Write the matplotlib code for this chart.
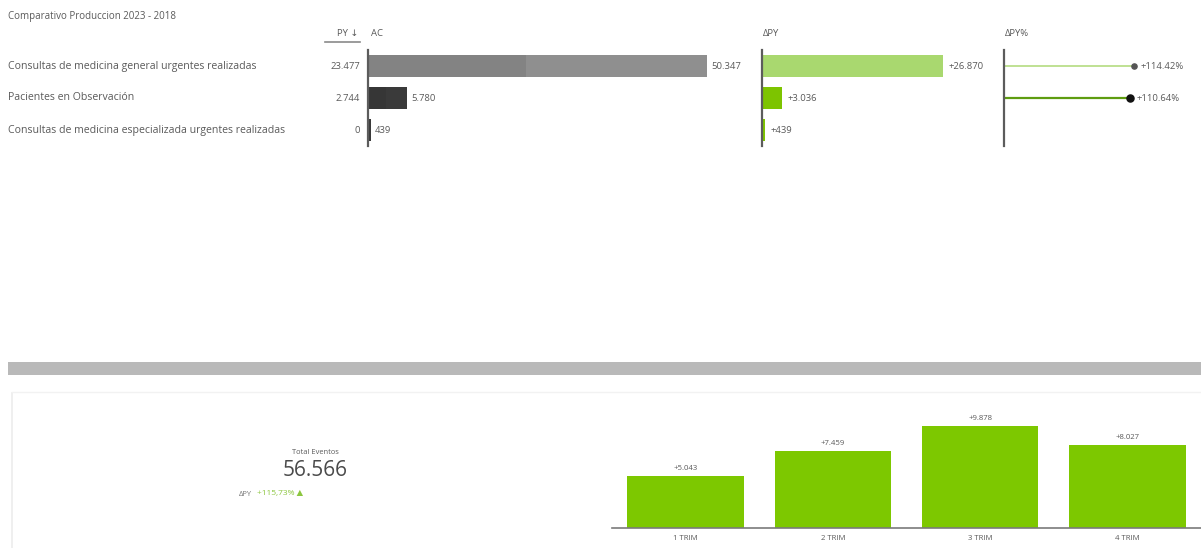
import matplotlib
matplotlib.use("Agg")
import matplotlib.pyplot as plt
from matplotlib.patches import Rectangle
from matplotlib.lines import Line2D

plt.rcParams['font.family'] = ['Open Sans', 'DejaVu Sans']

W, H = 1201, 548

# ---- data ----
title = "Comparativo Produccion 2023 - 2018"
categories = [
    "Consultas de medicina general urgentes realizadas",
    "Pacientes en Observación",
    "Consultas de medicina especializada urgentes realizadas",
]
py_values = [23477, 2744, 0]
ac_values = [50347, 5780, 439]
dpy_values = [26870, 3036, 439]
dpy_pct = [114.42, 110.64, None]

kpi_title = "Total Eventos"
kpi_value = "56.566"
kpi_delta = "+115,73%"

quarters = ["1 TRIM", "2 TRIM", "3 TRIM", "4 TRIM"]
quarter_delta = [5043, 7459, 9878, 8027]


def fmt(v, sign=False):
    s = f"{abs(v):,}".replace(",", ".")
    if sign:
        s = ("+" if v >= 0 else "-") + s
    return s


def fx(px):
    return px / W


def fy(py):
    return 1 - py / H


fig = plt.figure(figsize=(W / 100, H / 100), dpi=100)
fig.patch.set_facecolor("white")

TXT = "#5a5a5a"
FS = 6.8
FS_LABEL = 7.6

# title
fig.text(fx(8), fy(17), title, fontsize=7.0, color=TXT, va="center", ha="left")

# table rows geometry
row_top, row_h = 50, 32
n = len(categories)
scale = 339 / 50347  # pixels per unit (shared by AC and ΔPY)


def make_axes(left_px, width_px):
    ax = fig.add_axes([fx(left_px), fy(row_top + row_h * n), fx(width_px), (row_h * n) / H])
    ax.set_ylim(n - 0.5, -0.5)
    for s in ["top", "right", "bottom"]:
        ax.spines[s].set_visible(False)
    ax.spines["left"].set_color("#5c5c5c")
    ax.spines["left"].set_linewidth(1.6)
    ax.set_xticks([])
    ax.set_yticks([])
    ax.patch.set_alpha(0)
    return ax


# AC column
ax_ac = make_axes(368, 420)
ax_ac.set_xlim(0, 420 / scale)
ac_colors = ["#8f8f8f", "#3a3a3a", "#3a3a3a"]
py_colors = ["#838383", "#363636", "#363636"]
ypos = list(range(n))
ax_ac.barh(ypos, ac_values, height=0.68, color=ac_colors, left=0)
ax_ac.barh(ypos, py_values, height=0.68, color=py_colors, left=0)
for i in ypos:
    ax_ac.annotate(fmt(ac_values[i]), xy=(ac_values[i], i), xytext=(3, 0),
                   textcoords="offset points", fontsize=FS, color=TXT,
                   va="center", ha="left")
    ax_ac.annotate(fmt(py_values[i]), xy=(0, i), xytext=(-6, 0),
                   textcoords="offset points", fontsize=FS, color=TXT,
                   va="center", ha="right")

# headers
fig.text(fx(358), fy(34), "PY ↓", fontsize=FS, color=TXT, ha="right", va="center")
fig.add_artist(Line2D([fx(325), fx(360)], [fy(42), fy(42)], color="#8a8a8a", lw=1.2))
fig.text(fx(371), fy(34), "AC", fontsize=FS, color=TXT, ha="left", va="center")
fig.text(fx(763), fy(34), "ΔPY", fontsize=FS, color=TXT, ha="left", va="center")
fig.text(fx(1005), fy(34), "ΔPY%", fontsize=FS, color=TXT, ha="left", va="center")

# row labels
for i, c in enumerate(categories):
    fig.text(fx(8), fy(row_top + row_h * i + row_h / 2), c, fontsize=FS_LABEL,
             color=TXT, ha="left", va="center")

# ΔPY column
ax_d = make_axes(762, 230)
ax_d.set_xlim(0, 230 / scale)
d_colors = ["#a9d86f", "#7dc400", "#7dc400"]
ax_d.barh(ypos, dpy_values, height=0.68, color=d_colors)
for i in ypos:
    ax_d.annotate(fmt(dpy_values[i], sign=True), xy=(dpy_values[i], i), xytext=(4, 0),
                  textcoords="offset points", fontsize=FS, color=TXT,
                  va="center", ha="left")

# ΔPY% column
pscale = 130 / 114.42
ax_p = make_axes(1004, 197)
ax_p.set_xlim(0, 197 / pscale)
line_colors = ["#b4dc80", "#5e9c10"]
dot_colors = ["#555555", "#111111"]
dot_sizes = [14, 26]
line_w = [1.2, 1.6]
for i, v in enumerate(dpy_pct):
    if v is None:
        continue
    ax_p.plot([0, v], [i, i], color=line_colors[i], lw=line_w[i], solid_capstyle="butt")
    ax_p.scatter([v], [i], s=dot_sizes[i], color=dot_colors[i], zorder=3)
    ax_p.annotate(f"+{v:.2f}%", xy=(v, i), xytext=(5, 0),
                  textcoords="offset points", fontsize=FS, color=TXT,
                  va="center", ha="left")

# separator band
fig.add_artist(Rectangle((fx(8), fy(375)), fx(1201 - 8), 13 / H,
                         transform=fig.transFigure, color="#b9b9b9", lw=0))

# bottom panel frame
fig.add_artist(Line2D([fx(12), fx(12)], [fy(393), fy(548)], color="#ececec", lw=1.2))
fig.add_artist(Line2D([fx(12), fx(1201)], [fy(392), fy(392)], color="#f2f2f2", lw=1.0))

# KPI card
fig.text(fx(315), fy(452), kpi_title, fontsize=5.4, color=TXT, ha="center", va="center")
fig.text(fx(315), fy(470), kpi_value, fontsize=15, color="#4a4a4a", ha="center", va="center")
fig.text(fx(252), fy(494), "ΔPY", fontsize=5.4, color="#777777", ha="right", va="center")
fig.text(fx(257), fy(494), kpi_delta + " ▲", fontsize=6.0, color="#8cc63f",
         ha="left", va="center")

# quarterly ΔPY chart
qscale = 102 / 9878
ax_q = fig.add_axes([fx(612), fy(528), fx(1201 - 612), (528 - 400) / H])
ax_q.set_xlim(-0.5, len(quarters) - 0.5)
ax_q.set_ylim(0, 128 / qscale)
xq = list(range(len(quarters)))
ax_q.bar(xq, quarter_delta, width=0.79, color="#7dc800")
for i, v in enumerate(quarter_delta):
    ax_q.annotate(fmt(v, sign=True), xy=(i, v), xytext=(0, 3), textcoords="offset points",
                  fontsize=5.6, color=TXT, ha="center", va="bottom")
for s in ["top", "right", "left"]:
    ax_q.spines[s].set_visible(False)
ax_q.spines["bottom"].set_color("#7a7a7a")
ax_q.spines["bottom"].set_linewidth(1.2)
ax_q.set_yticks([])
ax_q.set_xticks(xq)
ax_q.set_xticklabels(quarters, fontsize=5.6, color=TXT)
ax_q.tick_params(axis="x", length=0, pad=5)
ax_q.patch.set_alpha(0)

fig.savefig("out.png", dpi=100, facecolor="white")
